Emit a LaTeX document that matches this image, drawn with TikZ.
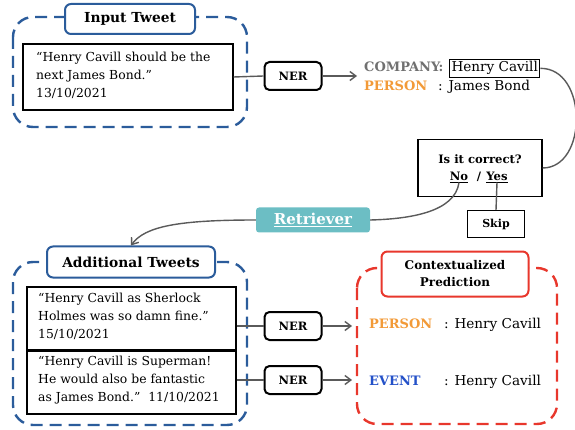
\documentclass[tikz,border=0pt]{standalone}
\usepackage{fontspec}
\setmainfont{DejaVu Serif}
\usetikzlibrary{arrows.meta}
\definecolor{dblue}{HTML}{2B5C9B}
\definecolor{dred}{HTML}{E8372C}
\definecolor{orng}{HTML}{F29A38}
\definecolor{gry}{HTML}{707070}
\definecolor{teal}{HTML}{6CBEC4}
\definecolor{evblue}{HTML}{2451C8}
\definecolor{lnk}{HTML}{5A5A5A}
\begin{document}
\begin{tikzpicture}[x=1pt,y=-1pt,
  body/.style={font=\fontsize{12.4}{18}\selectfont, inner sep=0pt, align=left, anchor=north west},
  grp/.style={draw=#1, line width=2.4pt, dash pattern=on 12pt off 7pt, rounded corners=20pt},
  ttl/.style={draw=#1, line width=2pt, fill=white, rounded corners=6pt, font=\bfseries\fontsize{13.8}{16}\selectfont, align=center},
  tbox/.style={draw=black, line width=1.1pt},
  ner/.style={draw=black, line width=2pt, rounded corners=5pt, minimum width=57pt, minimum height=28pt, font=\bfseries\fontsize{11.5}{13}\selectfont},
  conn/.style={draw=lnk, line width=1.4pt},
  arr/.style={conn, -{Straight Barb[length=6pt,width=9pt]}},
  sm/.style={font=\bfseries\fontsize{11.6}{13}\selectfont, inner sep=0pt},
  lab/.style={font=\bfseries\fontsize{13}{15}\selectfont, inner sep=0pt, anchor=base west},
  val/.style={font=\fontsize{13.6}{15}\selectfont, inner sep=0pt, anchor=base west}
]
\useasboundingbox (0,0) rectangle (575,430);

% Input tweet group
\draw[grp=dblue] (13,17) rectangle (247,127);
\node[ttl=dblue, minimum width=130pt, minimum height=30pt] (t1) at (130,19) {Input Tweet};
\node[tbox, minimum width=210pt, minimum height=66pt] (in1) at (128,77) {};
\node[body] (in1t) at (36,52) {“Henry Cavill should be the\\next James Bond.”\\13/10/2021};

% NER 1
\node[ner] (n1) at (293,76) {NER};
\coordinate (o1) at (357,76);
\draw[conn] (in1.east) -- (n1.west);
\draw[arr] (n1.east) -- (o1);

% output 1
\node[lab, text=gry] (c1) at (364,72) {COMPANY:};
\node[val, draw=black, line width=1pt, inner sep=2pt] (hc) at (449,72) {Henry Cavill};
\node[lab, text=orng] (p1) at (364,91) {PERSON};
\node[val] (jb) at (438,91) {: James Bond};

% question box
\node[tbox, minimum width=124pt, minimum height=57pt] (q) at (480,168) {};
\node[sm] (q1) at (480,159) {Is it correct?};
\node[sm] (no) at (459,177) {\underline{No}};
\node[sm] (sl) at (479,177) {/};
\node[sm] (yes) at (497,177) {\underline{Yes}};
\draw[conn] (hc.east) .. controls (588,68) and (588,168) .. (q.east);

% skip
\node[tbox, minimum width=57pt, minimum height=27pt, font=\bfseries\fontsize{11}{12}\selectfont] (sk) at (496,224) {Skip};
\draw[conn] (yes.south) -- (sk.north);

% retriever
\node[fill=teal, rounded corners=3pt, minimum width=114pt, minimum height=25pt, text=white, font=\bfseries\fontsize{15}{16}\selectfont] (rt) at (313,220) {\underline{Retriever}};
\draw[conn] (no.south) .. controls (455,212) and (410,219) .. (rt.east);

% Additional tweets group
\draw[grp=dblue] (13,262) rectangle (247,425);
\node[ttl=dblue, minimum width=168pt, minimum height=31pt] (t2) at (131,262) {Additional Tweets};
\draw[arr] (rt.west) .. controls (180,220) and (145,226) .. (t2.north);
\node[tbox, minimum width=209pt, minimum height=64pt] (a1) at (131.5,319) {};
\node[tbox, minimum width=209pt, minimum height=64pt] (a2) at (131.5,382) {};
\node[body] (a1t) at (38,293) {“Henry Cavill as Sherlock\\Holmes was so damn fine.”\\15/10/2021};
\node[body] (a2t) at (38,356) {“Henry Cavill is Superman!\\He would also be fantastic\\as James Bond.”\ \ 11/10/2021};

% NER 2,3
\node[ner] (n2) at (293,326) {NER};
\node[ner] (n3) at (293,380) {NER};
\coordinate (o2) at (352,326);
\coordinate (o3) at (352,380);
\draw[conn] (a1.east |- n2.west) -- (n2.west);
\draw[conn] (a2.east |- n3.west) -- (n3.west);
\draw[arr] (n2.east) -- (o2);
\draw[arr] (n3.east) -- (o3);

% Contextualized prediction
\draw[grp=dred] (357,268) rectangle (557,424);
\node[ttl=dred, minimum width=147pt, minimum height=45pt, font=\bfseries\fontsize{12}{17}\selectfont] (t3) at (455,274) {Contextualized\\Prediction};
\node[lab, text=orng] (p2) at (369,328) {PERSON};
\node[val] (h2) at (444,328) {: Henry Cavill};
\node[lab, text=evblue] (e3) at (369,385) {EVENT};
\node[val] (h3) at (444,385) {: Henry Cavill};
\end{tikzpicture}
\end{document}
